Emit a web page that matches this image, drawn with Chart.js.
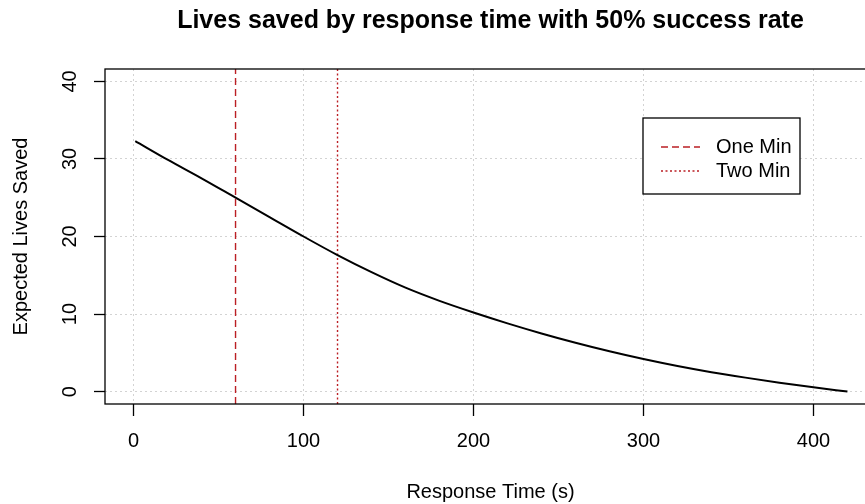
<!DOCTYPE html>
<html>
<head>
<meta charset="utf-8">
<script src="https://cdn.jsdelivr.net/npm/chart.js@4"></script>
<style>
  html, body { margin: 0; padding: 0; background: #fff; overflow: hidden; }
  #wrap { width: 876px; height: 504px; }
</style>
</head>
<body>
<div id="wrap"><canvas id="livesChart" width="876" height="504"></canvas></div>
<script>
// response time (s) and expected lives saved at that time
var timeSec = [1, 20, 40, 60, 80, 100, 120, 140, 160, 180, 200, 220, 240, 260, 280, 300, 320, 340, 360, 380, 400, 420];
var livesSaved = [32.3, 29.9, 27.5, 25.0, 22.5, 20.0, 17.6, 15.4, 13.4, 11.7, 10.2, 8.8, 7.5, 6.3, 5.2, 4.2, 3.3, 2.5, 1.8, 1.15, 0.55, 0.0];

// reference times marked with vertical lines
var markerTimes = [60, 120];
var markerLabels = ['One Min', 'Two Min'];

var xTicks = [0, 100, 200, 300, 400];
var yTicks = [0, 10, 20, 30, 40];

// axis limits with the usual 4% slack around the data
var xMin = -16.8, xMax = 436.8;
var yMin = -1.6, yMax = 41.6;

var mainTitle = 'Lives saved by response time with 50% success rate';
var xTitle = 'Response Time (s)';
var yTitle = 'Expected Lives Saved';

var FONT = '"Liberation Sans", Arial, sans-serif';
var lineRed = '#bb1f24';
var markerDash = [[7, 4], [2, 2.5]];

var curve = timeSec.map(function(t, i) { return {x: t, y: livesSaved[i]}; });

var markerSets = markerTimes.map(function(t, i) {
  return {
    label: markerLabels[i],
    data: [{x: t, y: yMin}, {x: t, y: yMax}],
    borderColor: lineRed,
    borderWidth: 1.4,
    borderDash: markerDash[i],
    pointRadius: 0,
    fill: false
  };
});

function setTicks(values) {
  return function(axis) {
    axis.ticks = values.map(function(v) { return {value: v}; });
  };
}

// titles, tick labels, box and legend
var decorations = {
  id: 'decorations',
  afterDraw: function(chart) {
    var ctx = chart.ctx;
    var area = chart.chartArea;
    var xs = chart.scales.x, ys = chart.scales.y;
    var cx = (area.left + area.right) / 2;
    var cy = (area.top + area.bottom) / 2;

    ctx.save();
    ctx.fillStyle = '#000';
    ctx.textAlign = 'center';
    ctx.textBaseline = 'middle';

    ctx.font = 'bold 25px ' + FONT;
    ctx.fillText(mainTitle, cx, 21);

    ctx.font = '20px ' + FONT;
    ctx.fillText(xTitle, cx, 492);
    xTicks.forEach(function(v) {
      ctx.fillText(String(v), xs.getPixelForValue(v), 441);
    });

    yTicks.forEach(function(v) {
      ctx.save();
      ctx.translate(70, ys.getPixelForValue(v));
      ctx.rotate(-Math.PI / 2);
      ctx.fillText(String(v), 0, 0);
      ctx.restore();
    });
    ctx.save();
    ctx.translate(21, cy);
    ctx.rotate(-Math.PI / 2);
    ctx.fillText(yTitle, 0, 0);
    ctx.restore();

    // plot box
    ctx.strokeStyle = '#000';
    ctx.lineWidth = 1.3;
    ctx.strokeRect(area.left, area.top, area.right - area.left, area.bottom - area.top);

    // legend
    var lx = 643, ly = 118, lw = 157, lh = 76;
    ctx.fillStyle = '#fff';
    ctx.fillRect(lx, ly, lw, lh);
    ctx.strokeRect(lx, ly, lw, lh);
    markerLabels.forEach(function(name, i) {
      var y = 147 + i * 24;
      ctx.strokeStyle = lineRed;
      ctx.lineWidth = 1.5;
      ctx.setLineDash(markerDash[i]);
      ctx.beginPath();
      ctx.moveTo(661, y);
      ctx.lineTo(700, y);
      ctx.stroke();
      ctx.setLineDash([]);
      ctx.fillStyle = '#000';
      ctx.textAlign = 'left';
      ctx.fillText(name, 716, y);
    });
    ctx.restore();
  }
};

var ctx = document.getElementById('livesChart').getContext('2d');
var chart = new Chart(ctx, {
  type: 'line',
  data: {
    datasets: [{
      label: 'Expected lives saved',
      data: curve,
      borderColor: '#000',
      borderWidth: 2,
      pointRadius: 0,
      cubicInterpolationMode: 'monotone',
      fill: false
    }].concat(markerSets)
  },
  options: {
    responsive: false,
    animation: false,
    events: [],
    layout: { padding: { top: 69, left: 0, right: 0, bottom: 0 } },
    plugins: {
      legend: { display: false },
      title: { display: false },
      tooltip: { enabled: false }
    },
    scales: {
      x: {
        type: 'linear',
        min: xMin,
        max: xMax,
        afterBuildTicks: setTicks(xTicks),
        afterFit: function(scale) { scale.height = 100; },
        ticks: { display: false },
        grid: { color: '#d3d3d3', lineWidth: 1, tickColor: '#000', tickLength: 12, tickWidth: 1.3 },
        border: { display: false, dash: [2, 3] }
      },
      y: {
        type: 'linear',
        min: yMin,
        max: yMax,
        afterBuildTicks: setTicks(yTicks),
        afterFit: function(scale) { scale.width = 105; },
        ticks: { display: false },
        grid: { color: '#d3d3d3', lineWidth: 1, tickColor: '#000', tickLength: 11, tickWidth: 1.3 },
        border: { display: false, dash: [2, 3] }
      }
    }
  },
  plugins: [decorations]
});
</script>
</body>
</html>
